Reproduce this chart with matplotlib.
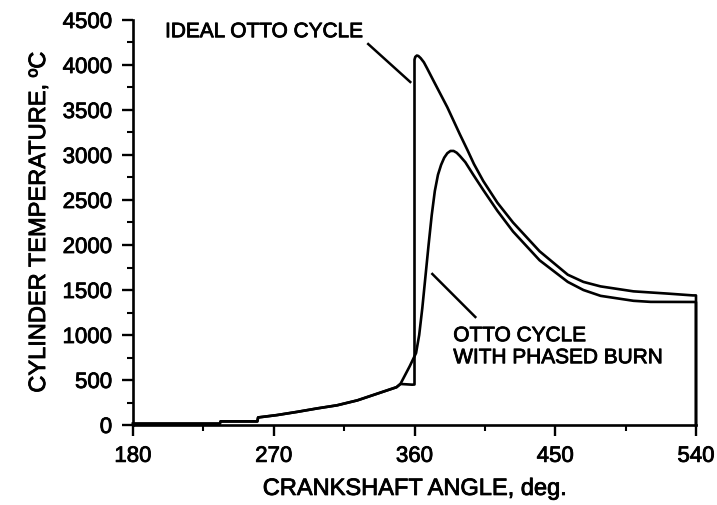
import matplotlib.pyplot as plt
import matplotlib.patheffects as pe
import numpy as np

plt.rcParams['font.family'] = ['Liberation Sans', 'DejaVu Sans']

# compression stroke, shared by both cycles (crank angle in deg, temperature in degC)
comp_angle = [180, 235.5, 236, 259.5, 260, 272, 285, 298, 310.5, 323.5, 336, 348.5, 351]
comp_temp = [15, 15, 40, 40, 84, 110, 146, 185, 219, 274, 347, 420, 456]

# ideal Otto cycle: constant-volume heat addition at TDC, then expansion
ideal_angle = [358.5, 360, 360, 360.5, 361.5, 362.5, 364, 366, 368, 372, 376.5, 381, 385,
               389, 394, 398, 404, 413, 423, 440, 458, 468, 479, 500, 522, 538, 540, 540]
ideal_temp = [448, 450, 4060, 4090, 4105, 4100, 4075, 4030, 3965, 3830, 3680, 3530, 3380,
              3230, 3050, 2900, 2710, 2470, 2250, 1930, 1670, 1590, 1540, 1485, 1460, 1440, 1440, 0]

# Otto cycle with phased (finite-rate) burn
burn_angle = [357, 361, 363, 365, 367, 369, 371, 373, 375, 377, 379, 381, 383, 385, 387,
              389, 392.5, 397.6, 404, 413, 423, 440, 458, 468, 479, 500, 511, 538, 540, 540]
burn_temp = [655, 800, 1000, 1300, 1650, 2000, 2330, 2600, 2780, 2890, 2970, 3020, 3045,
             3045, 3025, 2990, 2920, 2780, 2610, 2380, 2150, 1830, 1590, 1500, 1435, 1380,
             1368, 1367, 1367, 0]

x_ticks = [180, 270, 360, 450, 540]
y_ticks = list(range(0, 4501, 500))

heavy = [pe.withStroke(linewidth=0.6, foreground='black')]

fig = plt.figure(figsize=(7.17, 5.06), dpi=100)
ax = fig.add_axes([133 / 717, 1 - 426 / 506, (696 - 133) / 717, (426 - 21) / 506])

lw = 1.9
ax.plot(comp_angle + ideal_angle, comp_temp + ideal_temp, color='black', lw=lw,
        solid_joinstyle='round', clip_on=False)
ax.plot(comp_angle + burn_angle, comp_temp + burn_temp, color='black', lw=lw,
        solid_joinstyle='round', clip_on=False)

ax.set_xlim(180, 540)
ax.set_ylim(0, 4500)
ax.set_xticks(x_ticks)
ax.set_yticks(y_ticks)
ax.set_xticks(np.arange(225, 540, 90), minor=True)
ax.set_yticks(np.arange(250, 4500, 500), minor=True)

for side in ['top', 'right']:
    ax.spines[side].set_visible(False)
for side in ['left', 'bottom']:
    ax.spines[side].set_linewidth(1.9)

ax.tick_params(which='major', direction='out', length=8, width=1.7,
               labelsize=16, pad=7)
ax.tick_params(which='minor', direction='out', length=4, width=1.5)
for lab in ax.get_xticklabels() + ax.get_yticklabels():
    lab.set_path_effects(heavy)

ax.set_xlabel('CRANKSHAFT ANGLE, deg.', fontsize=17, labelpad=8, path_effects=heavy)
ax.set_ylabel('CYLINDER TEMPERATURE, ºC', fontsize=17, labelpad=9, path_effects=heavy)

# curve labels with leader lines
ax.text(200.5, 4370, 'IDEAL OTTO CYCLE', fontsize=15, va='center', ha='left',
        path_effects=heavy)
ax.plot([330.4, 357.3], [4233, 3811], color='black', lw=1.8)

ax.text(384.8, 870, 'OTTO CYCLE\nWITH PHASED BURN', fontsize=15, va='center',
        ha='left', linespacing=1.2, path_effects=heavy)
ax.plot([371.4, 398.9], [1678, 1200], color='black', lw=1.8)

fig.savefig('out.png', dpi=100)
